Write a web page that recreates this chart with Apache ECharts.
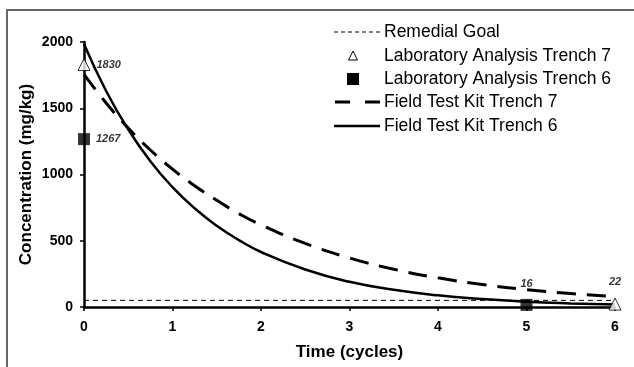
<!DOCTYPE html>
<html>
<head>
<meta charset="utf-8">
<script src="https://cdn.jsdelivr.net/npm/echarts@6/dist/echarts.min.js"></script>
<style>
  html, body { margin: 0; padding: 0; background: #fff; }
  #chart { width: 634px; height: 367px; }
</style>
</head>
<body>
<div id="chart"></div>
<script>
const curveTimes = [0, 0.25, 0.5, 0.75, 1, 1.25, 1.5, 1.75, 2, 2.5, 3, 3.5, 4, 4.5, 5, 5.5, 6];
// field test kit curves (mg/kg)
const kitTrench6 = [1985, 1630, 1340, 1100, 905, 745, 613, 505, 415, 283, 190, 130, 88, 60, 40, 27, 18];
const kitTrench7 = [1755, 1540, 1350, 1185, 1040, 915, 805, 705, 620, 480, 370, 285, 220, 170, 131, 101, 78];
// lab results [time, value]
const labTrench7 = [[0, 1830], [6, 22]];
const labTrench6 = [[0, 1267], [5, 16]];
const remedialGoal = 50;
const xTicks = [0, 6, 1];      // min, max, step
const yTicks = [0, 2000, 500];
const legendNames = ['Remedial Goal', 'Laboratory Analysis Trench 7', 'Laboratory Analysis Trench 6',
                     'Field Test Kit Trench 7', 'Field Test Kit Trench 6'];

const font = 'Arial, "Liberation Sans", sans-serif';

const chart = echarts.init(document.getElementById('chart'));

function pairs(xs, ys) {
  return xs.map((t, i) => [t, ys[i]]);
}

const labelStyle = {
  show: true,
  fontFamily: font,
  fontSize: 11,
  fontWeight: 'bold',
  fontStyle: 'italic',
  color: '#000',
  formatter: (p) => p.value[1]
};

// legend drawn by hand so every key looks like the original
const legX = 334, legTextX = 384;
const legRows = [32, 56, 79, 102, 126];
const legendIcons = [
  { type: 'line', shape: { x1: legX, y1: legRows[0], x2: legX + 47, y2: legRows[0] },
    style: { stroke: '#000', lineWidth: 1, lineDash: [4, 3] } },
  { type: 'polygon', shape: { points: [[353, legRows[1] - 5], [357.5, legRows[1] + 4], [348.5, legRows[1] + 4]] },
    style: { fill: '#fff', stroke: '#000', lineWidth: 1 } },
  { type: 'rect', shape: { x: 347, y: legRows[2] - 6, width: 12, height: 12 },
    style: { fill: '#000' } },
  { type: 'line', shape: { x1: legX + 1, y1: legRows[3], x2: legX + 46, y2: legRows[3] },
    style: { stroke: '#000', lineWidth: 3, lineDash: [15, 15] } },
  { type: 'line', shape: { x1: legX, y1: legRows[4], x2: legX + 46, y2: legRows[4] },
    style: { stroke: '#000', lineWidth: 2.5 } }
];
const legendTexts = legendNames.map((n, i) => ({
  type: 'text',
  x: legTextX, y: legRows[i],
  style: { text: n, fill: '#000', font: '17.5px ' + font, textVerticalAlign: 'middle' }
}));

const option = {
  animation: false,
  backgroundColor: '#fff',
  textStyle: { fontFamily: font },
  graphic: [{
    type: 'rect',
    shape: { x: 7, y: 10, width: 700, height: 500 },
    style: { fill: 'none', stroke: '#666', lineWidth: 2 },
    silent: true
  }].concat(legendIcons, legendTexts),
  grid: { left: 84, right: 19, top: 42, bottom: 60 },
  xAxis: {
    type: 'value',
    min: xTicks[0], max: xTicks[1], interval: xTicks[2],
    name: 'Time (cycles)',
    nameLocation: 'middle',
    nameGap: 37,
    nameMoveOverlap: false,
    nameTextStyle: { fontFamily: font, fontSize: 17, fontWeight: 'bold', color: '#000' },
    axisLine: { lineStyle: { color: '#000', width: 2.5 } },
    axisTick: { show: true, length: 4, lineStyle: { color: '#000', width: 1.5 } },
    axisLabel: { fontFamily: font, fontSize: 14, fontWeight: 'bold', color: '#000', margin: 13 },
    splitLine: { show: false }
  },
  yAxis: {
    type: 'value',
    min: yTicks[0], max: yTicks[1], interval: yTicks[2],
    name: 'Concentration (mg/kg)',
    nameLocation: 'middle',
    nameGap: 49,
    nameMoveOverlap: false,
    nameTextStyle: { fontFamily: font, fontSize: 17, fontWeight: 'bold', color: '#000' },
    axisLine: { show: true, lineStyle: { color: '#000', width: 2.5 } },
    axisTick: { show: true, length: 4, lineStyle: { color: '#000', width: 1.5 } },
    axisLabel: { fontFamily: font, fontSize: 14, fontWeight: 'bold', color: '#000', margin: 11,
                 formatter: (v) => String(v) },
    splitLine: { show: false }
  },
  series: [
    {
      name: 'Remedial Goal',
      type: 'line',
      symbol: 'none',
      data: [[xTicks[0], remedialGoal], [xTicks[1], remedialGoal]],
      lineStyle: { color: '#000', width: 1, type: [5, 4] },
      z: 1
    },
    {
      name: 'Field Test Kit Trench 7',
      type: 'line',
      symbol: 'none',
      smooth: true,
      data: pairs(curveTimes, kitTrench7),
      lineStyle: { color: '#000', width: 3, type: [19, 11] },
      z: 2
    },
    {
      name: 'Field Test Kit Trench 6',
      type: 'line',
      symbol: 'none',
      smooth: true,
      data: pairs(curveTimes, kitTrench6),
      lineStyle: { color: '#000', width: 2.5 },
      z: 3
    },
    {
      name: 'Laboratory Analysis Trench 7',
      type: 'scatter',
      symbol: 'triangle',
      symbolSize: 12,
      clip: false,
      itemStyle: { color: '#fff', borderColor: '#000', borderWidth: 1 },
      data: [
        { value: labTrench7[0], label: Object.assign({}, labelStyle, { position: 'right', distance: 6 }) },
        { value: labTrench7[1], label: Object.assign({}, labelStyle, { position: 'top', offset: [0, -5] }) }
      ],
      z: 5
    },
    {
      name: 'Laboratory Analysis Trench 6',
      type: 'scatter',
      symbol: 'rect',
      symbolSize: 12,
      clip: false,
      itemStyle: { color: '#000' },
      data: [
        { value: labTrench6[0], label: Object.assign({}, labelStyle, { position: 'right', distance: 6 }) },
        { value: labTrench6[1], label: Object.assign({}, labelStyle, { position: 'top', offset: [0, -4] }) }
      ],
      z: 5
    }
  ]
};

chart.setOption(option);
</script>
</body>
</html>
